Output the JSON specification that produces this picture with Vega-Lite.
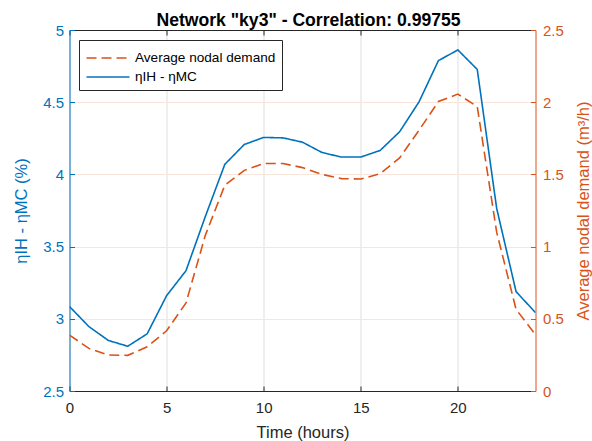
{
  "$schema": "https://vega.github.io/schema/vega-lite/v6.json",
  "width": 466,
  "height": 361,
  "autosize": {"type": "none"},
  "padding": {"left": 69.5, "top": 30, "right": 56.5, "bottom": 50},
  "background": "white",
  "config": {
    "font": "Liberation Sans",
    "view": {"stroke": null},
    "axis": {"labelFont": "Liberation Sans", "titleFont": "Liberation Sans", "labelFontSize": 15, "titleFontSize": 16.5, "titleFontWeight": "normal", "tickSize": -5, "tickWidth": 1, "domainWidth": 1, "labelFlush": false}
  },
  "title": {
    "text": "Network \"ky3\" - Correlation: 0.99755",
    "font": "Liberation Sans",
    "fontSize": 17.6,
    "fontWeight": "bold",
    "color": "black",
    "anchor": "middle",
    "offset": -7,
    "dx": 6
  },
  "data": {
    "values": [
      {"hour": 0, "eta": 3.085, "demand": 0.387},
      {"hour": 1, "eta": 2.946, "demand": 0.295},
      {"hour": 2, "eta": 2.850, "demand": 0.249},
      {"hour": 3, "eta": 2.810, "demand": 0.247},
      {"hour": 4, "eta": 2.896, "demand": 0.306},
      {"hour": 5, "eta": 3.160, "demand": 0.417},
      {"hour": 6, "eta": 3.333, "demand": 0.610},
      {"hour": 7, "eta": 3.710, "demand": 1.080},
      {"hour": 8, "eta": 4.070, "demand": 1.425},
      {"hour": 9, "eta": 4.207, "demand": 1.528},
      {"hour": 10, "eta": 4.256, "demand": 1.575},
      {"hour": 11, "eta": 4.253, "demand": 1.575},
      {"hour": 12, "eta": 4.223, "demand": 1.547},
      {"hour": 13, "eta": 4.152, "demand": 1.500},
      {"hour": 14, "eta": 4.120, "demand": 1.471},
      {"hour": 15, "eta": 4.120, "demand": 1.468},
      {"hour": 16, "eta": 4.166, "demand": 1.505},
      {"hour": 17, "eta": 4.295, "demand": 1.614},
      {"hour": 18, "eta": 4.502, "demand": 1.805},
      {"hour": 19, "eta": 4.788, "demand": 2.005},
      {"hour": 20, "eta": 4.862, "demand": 2.056},
      {"hour": 21, "eta": 4.727, "demand": 1.970},
      {"hour": 22, "eta": 3.765, "demand": 1.100},
      {"hour": 23, "eta": 3.188, "demand": 0.565},
      {"hour": 24, "eta": 3.043, "demand": 0.390}
    ]
  },
  "layer": [
    {
      "mark": {"type": "line", "strokeWidth": 1.6, "clip": true},
      "encoding": {
        "x": {
          "field": "hour", "type": "quantitative",
          "scale": {"domain": [0, 24], "nice": false},
          "axis": {"orient": "bottom", "values": [0, 5, 10, 15, 20], "title": "Time (hours)", "grid": true, "gridColor": "#dfdfdf", "gridWidth": 1, "domainColor": "#262626", "tickColor": "#262626", "labelColor": "#262626", "titleColor": "#262626", "labelPadding": 14, "titlePadding": 9}
        },
        "y": {
          "field": "eta", "type": "quantitative",
          "scale": {"domain": [2.5, 5], "nice": false, "zero": false},
          "axis": {"orient": "left", "values": [2.5, 3, 3.5, 4, 4.5, 5], "format": ".1~f", "title": "ηIH - ηMC (%)", "grid": false, "domainColor": "#0072BD", "tickColor": "#0072BD", "labelColor": "#0072BD", "titleColor": "#0072BD", "labelPadding": 11, "titlePadding": 13}
        },
        "color": {
          "datum": "ηIH - ηMC",
          "scale": {"domain": ["Average nodal demand", "ηIH - ηMC"], "range": ["#D95319", "#0072BD"]},
          "legend": {"orient": "none", "legendX": 9.5, "legendY": 10, "title": null, "strokeColor": "#262626", "fillColor": "white", "padding": 6, "symbolType": "M-2,0H2", "symbolSize": 462, "symbolStrokeWidth": 1.6, "symbolOffset": 11, "labelFont": "Liberation Sans", "labelFontSize": 13.6, "labelColor": "black", "rowPadding": 0, "labelOffset": 15}
        },
        "strokeDash": {
          "datum": "ηIH - ηMC",
          "scale": {"domain": ["Average nodal demand", "ηIH - ηMC"], "range": [[10, 5], [1, 0]]}
        }
      }
    },
    {
      "mark": {"type": "line", "strokeWidth": 1.6, "clip": true},
      "encoding": {
        "x": {
          "field": "hour", "type": "quantitative",
          "axis": {"orient": "top", "values": [0, 5, 10, 15, 20], "labels": false, "title": null, "grid": false, "domainColor": "#262626", "tickColor": "#262626"}
        },
        "y": {
          "field": "demand", "type": "quantitative",
          "scale": {"domain": [0, 2.5], "nice": false},
          "axis": {"orient": "right", "values": [0, 0.5, 1, 1.5, 2, 2.5], "format": ".1~f", "title": "Average nodal demand (m³/h)", "titleAngle": 270, "titleBaseline": "top", "grid": true, "gridColor": "#f9e5dc", "gridWidth": 1, "domainColor": "#D95319", "tickColor": "#D95319", "labelColor": "#D95319", "titleColor": "#D95319", "labelPadding": 12, "titlePadding": 12}
        },
        "color": {"datum": "Average nodal demand"},
        "strokeDash": {"datum": "Average nodal demand"}
      }
    }
  ],
  "resolve": {"scale": {"y": "independent"}}
}
